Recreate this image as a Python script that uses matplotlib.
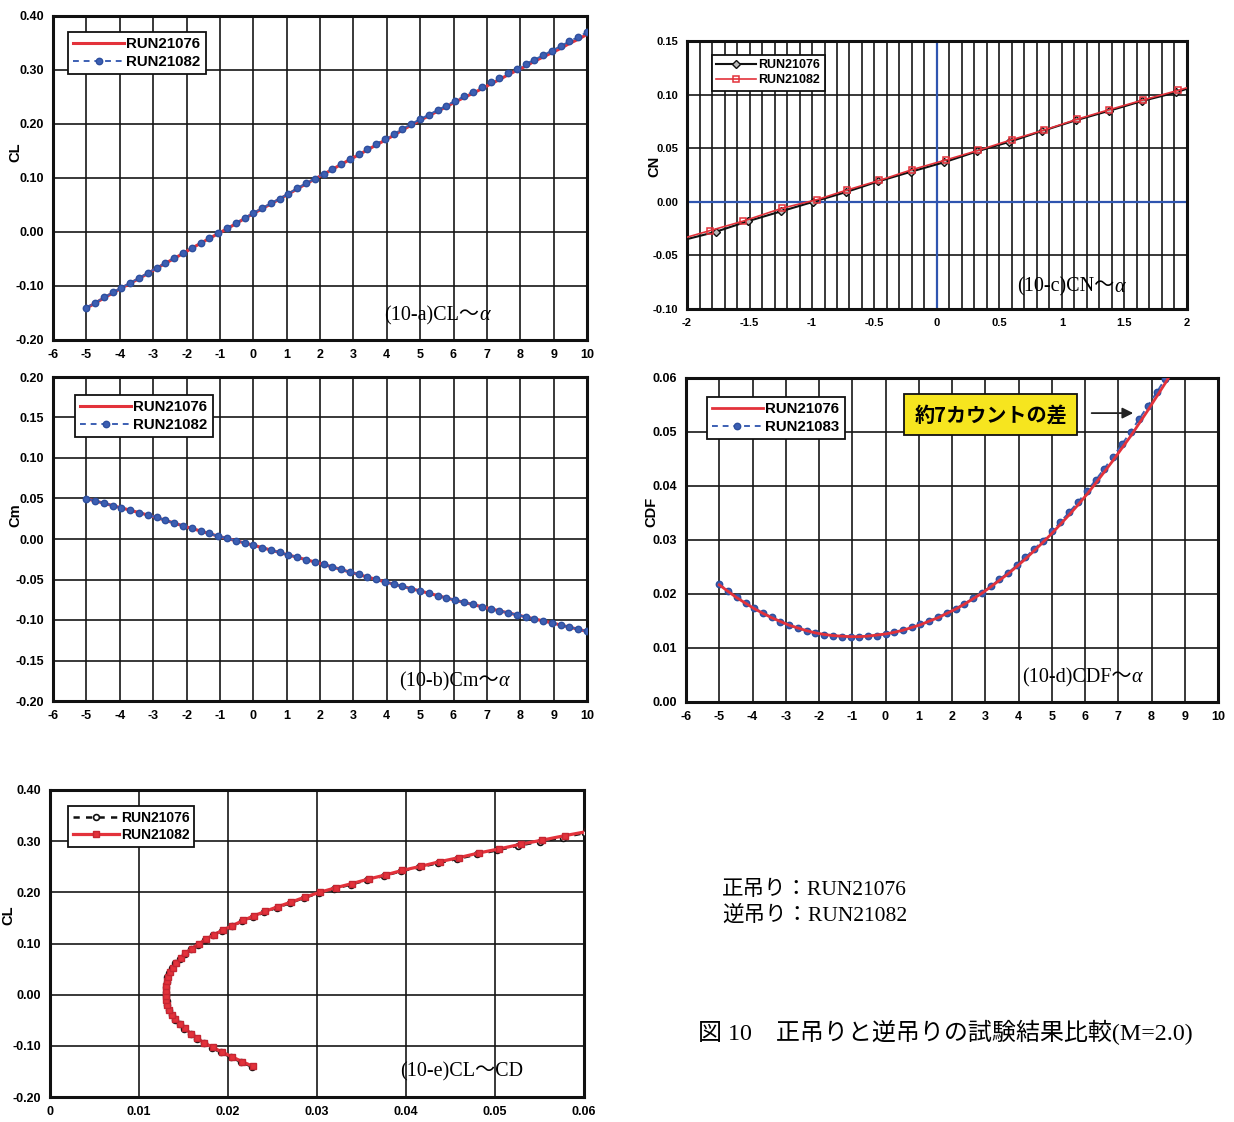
import matplotlib
matplotlib.use("Agg")
import matplotlib.pyplot as plt
from matplotlib.ticker import MultipleLocator, FuncFormatter

# ---------------------------------------------------------------- data
# angle of attack [deg], common sweep for the alpha plots
alpha = [-5.00, -4.74, -4.47, -4.21, -3.95, -3.68, -3.42, -3.16, -2.89, -2.63,
         -2.37, -2.11, -1.84, -1.58, -1.32, -1.05, -0.79, -0.53, -0.26, 0.00,
         0.26, 0.53, 0.79, 1.05, 1.32, 1.58, 1.84, 2.11, 2.37, 2.63,
         2.89, 3.16, 3.42, 3.68, 3.95, 4.21, 4.47, 4.74, 5.00, 5.26,
         5.53, 5.79, 6.05, 6.32, 6.58, 6.84, 7.11, 7.37, 7.63, 7.89,
         8.16, 8.42, 8.68, 8.95, 9.21, 9.47, 9.74, 10.00]

cl_21076 = [-0.141, -0.132, -0.122, -0.113, -0.104, -0.095, -0.086, -0.077, -0.067, -0.058,
            -0.049, -0.040, -0.030, -0.021, -0.012, -0.003, 0.006, 0.015, 0.025, 0.034,
            0.043, 0.052, 0.061, 0.070, 0.080, 0.089, 0.098, 0.107, 0.116, 0.125,
            0.134, 0.143, 0.152, 0.161, 0.170, 0.179, 0.189, 0.198, 0.207, 0.215,
            0.224, 0.232, 0.241, 0.249, 0.257, 0.265, 0.274, 0.282, 0.291, 0.299,
            0.307, 0.316, 0.324, 0.332, 0.340, 0.349, 0.357, 0.366]
cl_21082 = [-0.140, -0.131, -0.121, -0.112, -0.103, -0.094, -0.085, -0.076, -0.066, -0.057,
            -0.048, -0.039, -0.029, -0.020, -0.011, -0.002, 0.007, 0.016, 0.026, 0.035,
            0.044, 0.053, 0.062, 0.071, 0.081, 0.090, 0.099, 0.108, 0.117, 0.126,
            0.135, 0.145, 0.154, 0.163, 0.172, 0.181, 0.191, 0.200, 0.209, 0.217,
            0.226, 0.234, 0.243, 0.251, 0.260, 0.268, 0.277, 0.285, 0.294, 0.302,
            0.311, 0.319, 0.327, 0.336, 0.344, 0.353, 0.361, 0.370]

cm_21076 = [0.0498, 0.0470, 0.0441, 0.0412, 0.0384, 0.0355, 0.0325, 0.0296, 0.0264, 0.0231,
            0.0197, 0.0163, 0.0130, 0.0099, 0.0067, 0.0035, 0.0007, -0.0020, -0.0049, -0.0076,
            -0.0106, -0.0137, -0.0167, -0.0197, -0.0226, -0.0255, -0.0283, -0.0314, -0.0345, -0.0377,
            -0.0408, -0.0439, -0.0469, -0.0499, -0.0530, -0.0558, -0.0585, -0.0614, -0.0641, -0.0670,
            -0.0699, -0.0728, -0.0756, -0.0783, -0.0809, -0.0835, -0.0861, -0.0886, -0.0911, -0.0936,
            -0.0961, -0.0986, -0.1011, -0.1036, -0.1062, -0.1088, -0.1115, -0.1141]
cm_21082 = [0.0500, 0.0471, 0.0442, 0.0413, 0.0385, 0.0355, 0.0326, 0.0298, 0.0266, 0.0232,
            0.0198, 0.0164, 0.0131, 0.0100, 0.0068, 0.0036, 0.0008, -0.0019, -0.0048, -0.0075,
            -0.0105, -0.0136, -0.0166, -0.0196, -0.0225, -0.0254, -0.0282, -0.0313, -0.0344, -0.0376,
            -0.0407, -0.0438, -0.0468, -0.0498, -0.0529, -0.0557, -0.0584, -0.0613, -0.0640, -0.0669,
            -0.0698, -0.0727, -0.0755, -0.0782, -0.0808, -0.0834, -0.0860, -0.0885, -0.0910, -0.0935,
            -0.0960, -0.0985, -0.1010, -0.1035, -0.1061, -0.1087, -0.1114, -0.1140]

# forebody drag, first 53 sweep points (beyond that the curve leaves the plot)
cdf_21076 = [0.0217, 0.0205, 0.0193, 0.0183, 0.0173, 0.0164, 0.0156, 0.0149, 0.0142, 0.0137,
             0.0132, 0.0128, 0.0125, 0.0123, 0.0122, 0.0121, 0.0121, 0.0122, 0.0124, 0.0126,
             0.0129, 0.0133, 0.0138, 0.0143, 0.0150, 0.0156, 0.0164, 0.0172, 0.0181, 0.0191,
             0.0201, 0.0213, 0.0225, 0.0237, 0.0251, 0.0265, 0.0280, 0.0296, 0.0312, 0.0329,
             0.0347, 0.0365, 0.0384, 0.0405, 0.0426, 0.0447, 0.0470, 0.0492, 0.0516, 0.0540,
             0.0566, 0.0591, 0.0618]
cdf_21083 = [0.0218, 0.0206, 0.0195, 0.0184, 0.0174, 0.0165, 0.0157, 0.0149, 0.0143, 0.0137,
             0.0132, 0.0128, 0.0125, 0.0123, 0.0121, 0.0121, 0.0121, 0.0122, 0.0123, 0.0126,
             0.0129, 0.0133, 0.0138, 0.0144, 0.0150, 0.0157, 0.0165, 0.0173, 0.0182, 0.0192,
             0.0202, 0.0214, 0.0227, 0.0239, 0.0253, 0.0268, 0.0283, 0.0299, 0.0316, 0.0333,
             0.0352, 0.0370, 0.0390, 0.0411, 0.0432, 0.0454, 0.0477, 0.0500, 0.0524, 0.0548,
             0.0574, 0.0599, 0.0626]

# total drag for the polar, same 53 sweep points
cd_21076 = [0.0227, 0.0215, 0.0203, 0.0192, 0.0182, 0.0173, 0.0165, 0.0158, 0.0151, 0.0146,
            0.0141, 0.0137, 0.0134, 0.0132, 0.0131, 0.0130, 0.0130, 0.0130, 0.0131, 0.0132,
            0.0134, 0.0137, 0.0141, 0.0146, 0.0152, 0.0158, 0.0166, 0.0174, 0.0183, 0.0193,
            0.0204, 0.0216, 0.0228, 0.0241, 0.0255, 0.0270, 0.0285, 0.0302, 0.0319, 0.0338,
            0.0356, 0.0375, 0.0394, 0.0415, 0.0436, 0.0457, 0.0480, 0.0502, 0.0526, 0.0550,
            0.0576, 0.0601, 0.0628]
cd_21082 = [0.0228, 0.0216, 0.0204, 0.0193, 0.0183, 0.0173, 0.0165, 0.0158, 0.0152, 0.0146,
            0.0141, 0.0137, 0.0134, 0.0132, 0.0130, 0.0130, 0.0130, 0.0130, 0.0131, 0.0133,
            0.0135, 0.0138, 0.0142, 0.0147, 0.0152, 0.0159, 0.0167, 0.0175, 0.0184, 0.0194,
            0.0205, 0.0217, 0.0229, 0.0242, 0.0256, 0.0271, 0.0287, 0.0303, 0.0321, 0.0339,
            0.0358, 0.0377, 0.0396, 0.0417, 0.0438, 0.0460, 0.0482, 0.0505, 0.0529, 0.0553,
            0.0579, 0.0604, 0.0631]

# normal force near zero lift (finer sweep)
alpha_cn_21076 = [-2.04, -1.77, -1.51, -1.25, -0.99, -0.73, -0.47, -0.21, 0.06,
                  0.32, 0.58, 0.84, 1.11, 1.38, 1.64, 1.91, 2.17]
cn_21076 = [-0.036, -0.028, -0.018, -0.009, 0.000, 0.009, 0.019, 0.028, 0.037,
            0.047, 0.056, 0.066, 0.076, 0.085, 0.094, 0.102, 0.112]
alpha_cn_21082 = [-2.09, -1.82, -1.55, -1.24, -0.96, -0.72, -0.46, -0.20, 0.07,
                  0.33, 0.60, 0.86, 1.12, 1.38, 1.65, 1.93, 2.19]
cn_21082 = [-0.036, -0.027, -0.018, -0.006, 0.002, 0.011, 0.020, 0.030, 0.039,
            0.048, 0.058, 0.067, 0.077, 0.086, 0.095, 0.104, 0.113]

run_a, run_b, run_c = 'RUN21076', 'RUN21082', 'RUN21083'

# ---------------------------------------------------------------- style
SANS = ['Liberation Sans', 'Noto Sans CJK JP']
SERIF = ['Liberation Serif', 'Noto Sans CJK JP']
plt.rcParams['font.family'] = SANS
plt.rcParams['font.weight'] = 'bold'

RED = '#e3323b'
BLUE = '#3c5fb3'
GRIDC = '#161616'

W, H = 1234, 1122
fig = plt.figure(figsize=(W / 100, H / 100), dpi=100)


def make_axes(l, t, r, b):
    return fig.add_axes([l / W, 1 - b / H, (r - l) / W, (b - t) / H])


def fixed(nd):
    def f(v, pos):
        v = round(v, nd)
        if v == 0:
            v = 0.0
        return f'{v:.{nd}f}'
    return FuncFormatter(f)


def general(v, pos):
    v = round(v, 4)
    if v == 0:
        return '0'
    return f'{v:g}'


def style(ax, xlim, ylim, xmaj, ymaj, xmin=None, ymin=None, nd=2, size=9):
    ax.set_xlim(*xlim)
    ax.set_ylim(*ylim)
    ax.xaxis.set_major_locator(MultipleLocator(xmaj))
    ax.yaxis.set_major_locator(MultipleLocator(ymaj))
    if xmin:
        ax.xaxis.set_minor_locator(MultipleLocator(xmin))
    if ymin:
        ax.yaxis.set_minor_locator(MultipleLocator(ymin))
    ax.xaxis.set_major_formatter(FuncFormatter(general))
    ax.yaxis.set_major_formatter(fixed(nd))
    ax.grid(True, which='both', color=GRIDC, lw=1.2)
    ax.set_axisbelow(True)
    for s in ax.spines.values():
        s.set_linewidth(2.2)
        s.set_color('#111111')
    ax.tick_params(which='both', length=0, labelsize=size, pad=6.5)


def ylabel(ax, text, x, y):
    ax.set_ylabel(text, fontsize=10.5, fontweight='bold')
    ax.yaxis.set_label_coords(x, y)


def legend(ax, x, y, size=10.5, hl=3.4):
    leg = ax.legend(loc='upper left', bbox_to_anchor=(x, y), borderaxespad=0,
                    frameon=True, fancybox=False, edgecolor='#111111', framealpha=1,
                    prop={'weight': 'bold', 'size': size}, handlelength=hl,
                    handletextpad=0.15, borderpad=0.35, labelspacing=0.25)
    leg.get_frame().set_linewidth(1.3)
    return leg


def panel_title(ax, x, y, head, greek=True):
    t = ax.text(x, y, head, transform=ax.transAxes, family=SERIF, fontsize=14.5,
                fontweight='normal', ha='left', va='bottom', zorder=6)
    if greek:
        ax.annotate('α', xy=(1, 0), xycoords=t, ha='left', va='bottom',
                    family='Liberation Serif', style='italic', fontsize=14.5,
                    fontweight='normal', zorder=6)


# ---------------------------------------------------------------- (10-a) CL vs alpha
ax = make_axes(53, 16, 587, 340)
style(ax, (-6, 10), (-0.2, 0.4), 1, 0.1)
ax.plot(alpha, cl_21076, color=RED, lw=2.2, label=run_a, zorder=3)
ax.plot(alpha, cl_21082, color=BLUE, lw=1.4, dashes=(3, 2.5), marker='o', ms=4.6,
        mfc=BLUE, mec='#2d4f9e', label=run_b, zorder=4)
ylabel(ax, 'CL', -0.058, 0.58)
legend(ax, 0.028, 0.951, size=10.8)
panel_title(ax, 0.62, 0.045, '(10-a)CL～')

# ---------------------------------------------------------------- (10-b) Cm vs alpha
ax = make_axes(53, 377, 587, 701)
style(ax, (-6, 10), (-0.2, 0.2), 1, 0.05)
ax.plot(alpha, cm_21076, color=RED, lw=2.2, label=run_a, zorder=3)
ax.plot(alpha, cm_21082, color=BLUE, lw=1.4, dashes=(3, 2.5), marker='o', ms=4.6,
        mfc=BLUE, mec='#2d4f9e', label=run_b, zorder=4)
ylabel(ax, 'Cm', -0.058, 0.574)
legend(ax, 0.041, 0.944, size=10.8)
panel_title(ax, 0.648, 0.03, '(10-b)Cm～')

# ---------------------------------------------------------------- (10-c) CN vs alpha
ax = make_axes(687, 41, 1187, 309)
style(ax, (-2, 2), (-0.10, 0.15), 0.5, 0.05, xmin=0.1, size=8)
ax.axhline(0, color='#2f55b0', lw=1.6, zorder=1)
ax.axvline(0, color='#2f55b0', lw=1.6, zorder=1)
ax.plot(alpha_cn_21076, cn_21076, color='#111111', lw=1.5, marker='D', ms=4.5,
        mfc='#bbbbbb', mec='#111111', mew=1.0, label=run_a, zorder=3)
ax.plot(alpha_cn_21082, cn_21082, color=RED, lw=1.2, marker='s', ms=5,
        mfc='none', mec=RED, mew=1.1, label=run_b, zorder=4)
ylabel(ax, 'CN', -0.052, 0.534)
legend(ax, 0.05, 0.948, size=9, hl=3.2)
panel_title(ax, 0.66, 0.045, '(10-c)CN～')

# ---------------------------------------------------------------- (10-d) CDF vs alpha
n_cdf = len(cdf_21076)
ax = make_axes(686, 378, 1218, 702)
style(ax, (-6, 10), (0.0, 0.06), 1, 0.01)
ax.plot(alpha[:n_cdf], cdf_21076, color=RED, lw=2.0, label=run_a, zorder=5)
ax.plot(alpha[:n_cdf], cdf_21083, color=BLUE, lw=1.4, dashes=(3, 2.5), marker='o', ms=4.6,
        mfc=BLUE, mec='#2d4f9e', label=run_c, zorder=4)
ylabel(ax, 'CDF', -0.051, 0.586)
legend(ax, 0.039, 0.941, size=10.8)
panel_title(ax, 0.632, 0.045, '(10-d)CDF～')
ax.text(3.17, 0.0532, '約7カウントの差', ha='center', va='center', fontsize=14.5,
        fontweight='bold', family=['Noto Sans CJK JP'], zorder=7,
        bbox=dict(boxstyle='square,pad=0.5', fc='#f6e51f', ec='#111111', lw=1.3))
ax.annotate('', xy=(7.45, 0.0535), xytext=(6.2, 0.0535), zorder=7,
            arrowprops=dict(arrowstyle='-|>', color='#222222', lw=1.3,
                            mutation_scale=16, shrinkA=0, shrinkB=0))

# ---------------------------------------------------------------- (10-e) CL vs CD
ax = make_axes(50, 790, 584, 1097)
style(ax, (0, 0.06), (-0.2, 0.4), 0.01, 0.1)
ax.plot(cd_21076, cl_21076[:len(cd_21076)], color='#111111', lw=1.8, dashes=(2.5, 2.5),
        marker='o', ms=4.2, mfc='white', mec='#111111', mew=1.2, label=run_a, zorder=3)
ax.plot(cd_21082, cl_21082[:len(cd_21082)], color=RED, lw=2.3, marker='s', ms=3.8,
        mfc=RED, mec='#c42632', label=run_b, zorder=4)
ylabel(ax, 'CL', -0.064, 0.593)
legend(ax, 0.034, 0.948, size=10, hl=3.3)
panel_title(ax, 0.655, 0.05, '(10-e)CL～CD', greek=False)

# ---------------------------------------------------------------- notes and caption
fig.text(722 / W, 1 - 890 / H, '正吊り：RUN21076', family=SERIF, fontsize=15.5,
         fontweight='normal', ha='left', va='center')
fig.text(722 / W, 1 - 916 / H, '逆吊り：RUN21082', family=SERIF, fontsize=15.5,
         fontweight='normal', ha='left', va='center')
fig.text(698 / W, 1 - 1032 / H, '図 10　正吊りと逆吊りの試験結果比較(M=2.0)', family=SERIF,
         fontsize=17.3, fontweight='normal', ha='left', va='center')

fig.savefig('out.png', dpi=100, facecolor='white')
